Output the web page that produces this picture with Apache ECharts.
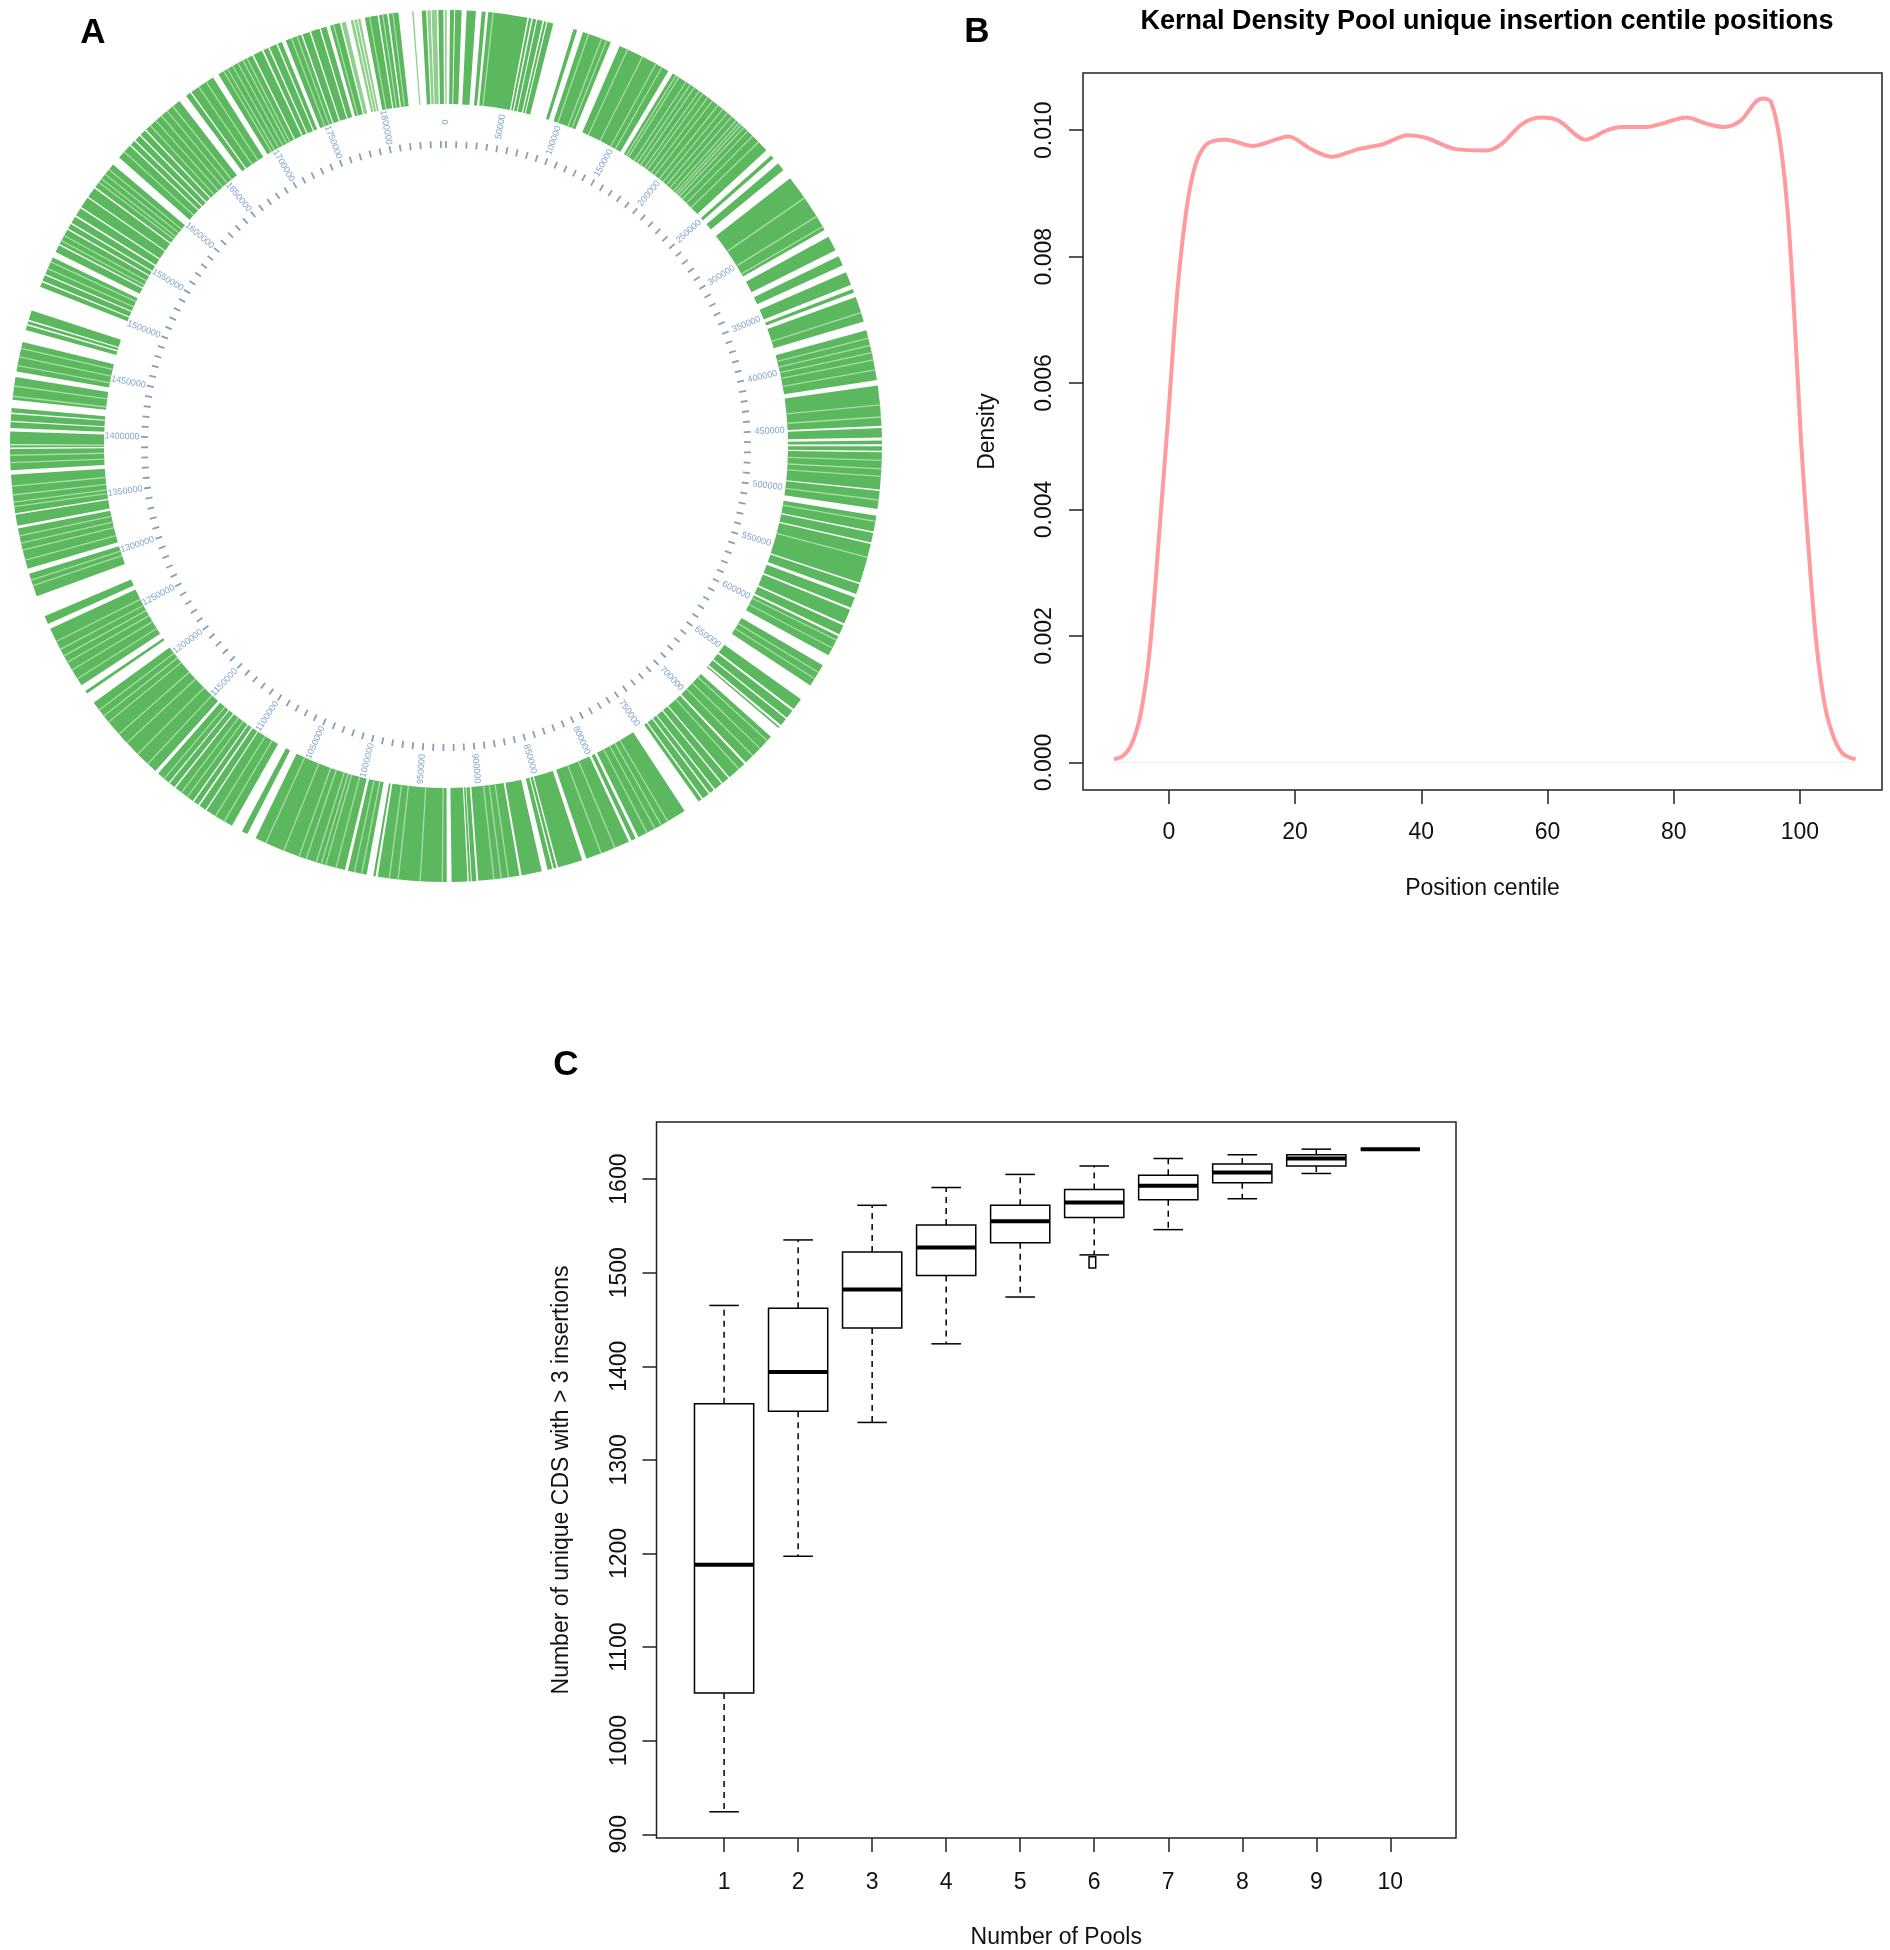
<!DOCTYPE html>
<html>
<head>
<meta charset="utf-8">
<title>Pool insertions</title>
<script src="https://cdn.jsdelivr.net/npm/echarts@6/dist/echarts.min.js"></script>
<style>
    html, body { margin: 0; padding: 0; background: #fff; }
    #main { width: 1890px; height: 1950px; }
</style>
</head>
<body>
<div id="main"></div>
<script>
// A: genome ring, positions in bp
var genomeLength = 1855000;
var ringLabels = [0, 50000, 100000, 150000, 200000, 250000, 300000, 350000, 400000, 450000, 500000, 550000, 600000, 650000, 700000, 750000, 800000, 850000, 900000, 950000, 1000000, 1050000, 1100000, 1150000, 1200000, 1250000, 1300000, 1350000, 1400000, 1450000, 1500000, 1550000, 1600000, 1650000, 1700000, 1750000, 1800000];
var greenBlocks = [
    [2700, 5500], [6200, 10600], [14000, 20300], [24200, 26900], [28700, 55500], [56500, 58200], [59200, 61500], [62300, 66000], [67000, 68600], [69400, 73400],
    [87600, 90200], [94400, 114400], [121000, 158000], [161500, 243700], [248400, 251000], [255600, 261300], [268500, 310700], [315900, 326200], [330800, 337500], [342700, 351900],
    [355000, 357500], [360700, 378200], [384400, 418900], [422600, 450000], [451500, 458000], [460000, 462500], [464000, 467000], [468000, 493300], [494300, 506500], [511200, 522000],
    [523000, 529700], [530700, 558000], [559000, 566000], [568500, 576000], [577500, 587500], [589000, 595500], [597000, 611600], [619400, 635400], [646700, 655000], [656500, 662500],
    [663500, 668800], [670300, 671500], [679200, 703500], [705000, 718500], [719500, 724500], [725500, 731200], [732200, 735500], [736500, 741500], [742500, 745100], [756500, 792500],
    [794600, 797700], [799700, 830700], [833700, 850800], [851800, 853800], [854800, 858000], [862100, 876000], [877500, 905600], [906900, 910000], [910600, 912000], [912900, 923700], [927000, 973900], [975400, 977000],
    [981600, 994500], [996600, 1061000], [1067200, 1071300], [1079000, 1099100], [1100000, 1104800], [1106000, 1109500], [1110500, 1124900], [1126000, 1130100], [1131000, 1140400], [1142900, 1205300],
    [1213000, 1215100], [1219700, 1263500], [1267100, 1272800], [1287300, 1303500], [1307000, 1335000], [1337000, 1344500], [1345500, 1371700], [1374800, 1389300], [1390300, 1391700], [1392400, 1401100],
    [1403500, 1407500], [1408300, 1413000], [1414000, 1417000], [1422700, 1438100], [1441900, 1462400], [1470700, 1474000], [1475000, 1477000], [1478000, 1484600], [1501600, 1505000], [1506000, 1510000],
    [1511000, 1523200], [1527400, 1532500], [1533500, 1544500], [1545500, 1549000], [1550000, 1554700], [1556000, 1561500], [1562500, 1570000], [1571000, 1578000], [1579000, 1598500], [1604700, 1615500],
    [1616500, 1620000], [1621000, 1625000], [1626000, 1630000], [1631000, 1660800], [1666500, 1670000], [1671000, 1688600], [1692800, 1719000], [1720000, 1726300], [1727500, 1731000], [1732000, 1737000],
    [1738000, 1741000], [1743800, 1755000], [1756000, 1761000], [1762000, 1768000], [1769000, 1773000], [1775500, 1782400], [1799700, 1808400], [1809400, 1815000], [1816100, 1822700], [1838500, 1841500], [1849800, 1853200]
];
var paleBlocks = [
    [0, 500], [1783500, 1786500], [1789900, 1791800], [1792500, 1794300], [1795000, 1796600], [1832000, 1833000], [1842400, 1844500], [1845200, 1848700], [1854300, 1855000]
];
var paleStripes = [
    32000, 98400, 107700, 111300, 126800, 138000, 148400, 153000, 164000, 166400, 172100, 175500, 178800, 183000, 186000, 190200, 194000, 198900, 203000, 207100, 211000, 214900, 217500, 219500, 222000, 225500, 230300, 236000, 285000, 300000, 308000, 372000,
    390000, 395000, 400000, 405000, 412000, 435900, 444100, 473500, 479300, 484400, 500400, 515000, 540000, 600000, 606000, 625000, 630000, 683000, 690000, 697000,
    710000, 770000, 775000, 780000, 786000, 810000, 820000, 885000, 890000, 895000, 930000, 945000, 960000, 966000, 985000, 990000, 1002800, 1010000, 1013100, 1016700,
    1023900, 1029000, 1040000, 1053300, 1085000, 1092000, 1115000, 1120000, 1135000, 1150000, 1159400, 1170000, 1178000, 1188800, 1194000, 1199100, 1225000, 1232000, 1238000, 1243000,
    1248000, 1254000, 1295000, 1299000, 1313000, 1320000, 1325000, 1330000, 1350000, 1353200, 1358000, 1364000, 1380000, 1385000, 1425000, 1432000, 1446000, 1452000, 1458000, 1515000,
    1520000, 1536000, 1540000, 1583000, 1586000, 1590000, 1594000, 1610000, 1635000, 1640000, 1645000, 1650000, 1655000, 1677000, 1683000, 1697000, 1700000, 1704000, 1708000, 1712000, 1715000, 1748000, 1752000, 1778000, 1803000, 1812000, 1819000
];

// B: kernel density curve
var centile = [-8.7, -7.3, -5.85, -4.4, -3, -1.5, 0, 1.35, 2.8, 4.2, 5.7, 7.1, 9, 13.3, 19, 22.5, 25.8, 30, 34, 37.8, 40.7, 45.5, 50.3, 52.7, 56, 59, 61.8, 66, 69.5, 71.9, 75.7, 78, 82, 85.3, 88, 90.6, 93, 94.2, 95.4, 96.8, 98.1, 99.2, 100.2, 101.3, 102.6, 104, 105.5, 106.9, 108.8];
var density = [0.00005, 0.0001, 0.0003, 0.0008, 0.0018, 0.00365, 0.0056, 0.00745, 0.00875, 0.00945, 0.00975, 0.00983, 0.00985, 0.00975, 0.0099, 0.0097, 0.00958, 0.0097, 0.00978, 0.00992, 0.00988, 0.0097, 0.00968, 0.00978, 0.0101, 0.0102, 0.01015, 0.00985, 0.01, 0.01005, 0.01005, 0.0101, 0.0102, 0.0101, 0.01005, 0.01015, 0.01045, 0.0105, 0.01045, 0.00985, 0.00865, 0.0069, 0.00504, 0.00346, 0.00189, 0.00087, 0.00036, 0.00013, 0.00005];
var centileTicks = [0, 20, 40, 60, 80, 100];
var densityTicks = [0, 0.002, 0.004, 0.006, 0.008, 0.01];

// C: box plot
var pools = [1, 2, 3, 4, 5, 6, 7, 8, 9, 10];
var whiskerLow = [924, 1197, 1340, 1424, 1474, 1519, 1546, 1579, 1606, 1632];
var quartile1 = [1051, 1352, 1441, 1497, 1532, 1559, 1578, 1596, 1614, 1632];
var medians = [1188, 1394, 1482, 1527, 1555, 1575, 1593, 1607, 1622, 1632];
var quartile3 = [1360, 1462, 1522, 1551, 1572, 1589, 1604, 1616, 1626, 1632];
var whiskerHigh = [1465, 1535, 1572, 1591, 1605, 1614, 1622, 1626, 1632, 1632];
var sliverBox = [5.93, 6.02, 1505, 1517];
var cdsTicks = [900, 1000, 1100, 1200, 1300, 1400, 1500, 1600];

var fontName = '"Liberation Sans", Arial, sans-serif';
var ringGreen = '#5cb85f';
var ringPale = '#a9dca6';

// ring stripes, radius is in px because the radius axis runs 0..436
function ringBlock(color) {
    return function (params, api) {
        var c = params.coordSys;
        var a = api.coord([342, api.value(0)]);
        var b = api.coord([342, api.value(1)]);
        return {
            type: 'sector',
            shape: {
                cx: c.cx, cy: c.cy, r0: 342, r: 436,
                startAngle: Math.atan2(a[1] - c.cy, a[0] - c.cx),
                endAngle: Math.atan2(b[1] - c.cy, b[0] - c.cx),
                clockwise: true
            },
            style: { fill: color }
        };
    };
}
function ringLine(r0, r1, color, width) {
    return function (params, api) {
        var a = api.coord([r0, api.value(0)]);
        var b = api.coord([r1, api.value(0)]);
        return {
            type: 'line',
            shape: { x1: a[0], y1: a[1], x2: b[0], y2: b[1] },
            style: { stroke: color, lineWidth: width }
        };
    };
}
function ringText(params, api) {
    var v = api.value(0);
    var p = api.coord([324, v]);
    var deg = v / genomeLength * 360;
    var rot = deg <= 180 ? 90 - deg : 270 - deg;
    return {
        type: 'text',
        x: p[0], y: p[1],
        rotation: rot * Math.PI / 180,
        style: {
            text: String(v), x: 0, y: 0,
            textAlign: 'center', textVerticalAlign: 'middle',
            fontFamily: fontName, fontSize: 9, fill: '#7fa5cc'
        }
    };
}
var ringTicks = [];
for (var t = 0; t < genomeLength; t += 10000) ringTicks.push(t);

// one box of panel C
function boxItem(params, api) {
    var x = api.value(0), low = api.value(1), q1 = api.value(2), med = api.value(3), q3 = api.value(4), high = api.value(5);
    function seg(x1, y1, x2, y2, width, dash) {
        var a = api.coord([x1, y1]), b = api.coord([x2, y2]);
        return {
            type: 'line',
            shape: { x1: a[0], y1: a[1], x2: b[0], y2: b[1] },
            style: { stroke: '#000', lineWidth: width, lineDash: dash || null }
        };
    }
    var tl = api.coord([x - 0.4, q3]), br = api.coord([x + 0.4, q1]);
    return {
        type: 'group',
        children: [
            seg(x, q3, x, high, 1.5, [6, 5]),
            seg(x, q1, x, low, 1.5, [6, 5]),
            seg(x - 0.2, high, x + 0.2, high, 1.5),
            seg(x - 0.2, low, x + 0.2, low, 1.5),
            {
                type: 'rect',
                shape: { x: tl[0], y: tl[1], width: br[0] - tl[0], height: br[1] - tl[1] },
                style: { fill: 'none', stroke: '#000', lineWidth: 1.5 }
            },
            seg(x - 0.4, med, x + 0.4, med, 4)
        ]
    };
}
function sliverItem(params, api) {
    var tl = api.coord([api.value(0), api.value(3)]), br = api.coord([api.value(1), api.value(2)]);
    return {
        type: 'rect',
        shape: { x: tl[0], y: tl[1], width: br[0] - tl[0], height: br[1] - tl[1] },
        style: { fill: 'none', stroke: '#000', lineWidth: 1.5 }
    };
}

function panelLetter(text, x, y) {
    return {
        type: 'text', x: x, y: y,
        style: { text: text, fontFamily: fontName, fontWeight: 'bold', fontSize: 35, fill: '#000', textAlign: 'center', textVerticalAlign: 'middle' }
    };
}
function axisBase(ticks, fmt, rotate, margin, extra) {
    var opt = {
        type: 'value',
        axisLine: { show: false, onZero: false },
        splitLine: { show: false },
        axisTick: { show: true, length: 14, customValues: ticks, lineStyle: { color: '#222', width: 1.5 } },
        axisLabel: { customValues: ticks, formatter: fmt, rotate: rotate, color: '#111', fontFamily: fontName, fontSize: 23, margin: margin, hideOverlap: false },
        nameLocation: 'middle',
        nameTextStyle: { color: '#111', fontFamily: fontName, fontSize: 23 }
    };
    for (var k in extra) opt[k] = extra[k];
    return opt;
}
function plainNumber(v) {
    return String(v);
}

var myChart = echarts.init(document.getElementById('main'));
var option = {
    animation: false,
    title: {
        text: 'Kernal Density Pool unique insertion centile positions',
        left: 1482, top: 3, textAlign: 'center',
        textStyle: { fontFamily: fontName, fontWeight: 'bold', fontSize: 27, color: '#000' }
    },
    graphic: [panelLetter('A', 93, 33), panelLetter('B', 977, 32), panelLetter('C', 566, 1065)],
    polar: { center: [446, 446], radius: [0, 436] },
    angleAxis: { type: 'value', min: 0, max: genomeLength, startAngle: 90, clockwise: true, show: false },
    radiusAxis: { type: 'value', min: 0, max: 436, show: false },
    grid: [
        { left: 1083, top: 73, width: 799, height: 717, show: true, borderColor: '#222', borderWidth: 1.5 },
        { left: 656.5, top: 1122, width: 799.5, height: 716, show: true, borderColor: '#222', borderWidth: 1.5 }
    ],
    xAxis: [
        axisBase(centileTicks, plainNumber, 0, 31, { gridIndex: 0, min: -13.6, max: 113.0, name: 'Position centile', nameGap: 87 }),
        axisBase(pools, plainNumber, 0, 33, { gridIndex: 1, min: 0.087, max: 10.887, name: 'Number of Pools', nameGap: 88 })
    ],
    yAxis: [
        axisBase(densityTicks, function (v) { return v.toFixed(3); }, 90, 27, { gridIndex: 0, min: -0.000436, max: 0.010904, name: 'Density', nameGap: 84 }),
        axisBase(cdsTicks, plainNumber, 90, 25, { gridIndex: 1, min: 896, max: 1661, name: 'Number of unique CDS with > 3 insertions', nameGap: 83 })
    ],
    series: [
        { type: 'custom', coordinateSystem: 'polar', silent: true, clip: false, renderItem: ringBlock(ringGreen), data: greenBlocks },
        { type: 'custom', coordinateSystem: 'polar', silent: true, clip: false, renderItem: ringBlock('#8fd08c'), data: paleBlocks },
        { type: 'custom', coordinateSystem: 'polar', silent: true, clip: false, renderItem: ringLine(342, 436, ringPale, 1.3), data: paleStripes.map(function (v) { return [v]; }) },
        { type: 'custom', coordinateSystem: 'polar', silent: true, clip: false, renderItem: ringLine(298, 305, '#8a9fb2', 1.8), data: ringTicks.map(function (v) { return [v]; }) },
        { type: 'custom', coordinateSystem: 'polar', silent: true, clip: false, renderItem: ringText, data: ringLabels.map(function (v) { return [v]; }) },
        {
            type: 'line', xAxisIndex: 0, yAxisIndex: 0, showSymbol: false, silent: true,
            lineStyle: { color: '#efefef', width: 1 },
            data: [[centile[0], 0], [centile[centile.length - 1], 0]]
        },
        {
            type: 'line', xAxisIndex: 0, yAxisIndex: 0, showSymbol: false, silent: true, smooth: 0.3,
            lineStyle: { color: '#ff9a9e', width: 4 },
            data: centile.map(function (x, i) { return [x, density[i]]; })
        },
        {
            type: 'custom', xAxisIndex: 1, yAxisIndex: 1, silent: true, renderItem: boxItem,
            encode: { x: 0, y: [1, 2, 3, 4, 5] },
            data: pools.map(function (p, i) { return [p, whiskerLow[i], quartile1[i], medians[i], quartile3[i], whiskerHigh[i]]; })
        },
        {
            type: 'custom', xAxisIndex: 1, yAxisIndex: 1, silent: true, renderItem: sliverItem,
            encode: { x: [0, 1], y: [2, 3] },
            data: [sliverBox]
        }
    ]
};
myChart.setOption(option);
window.addEventListener('resize', function () {
    myChart.resize();
});
</script>
</body>
</html>
